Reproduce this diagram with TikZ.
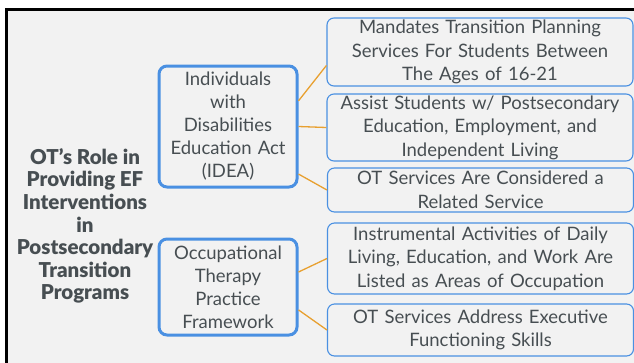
\documentclass[tikz,border=0pt]{standalone}
\usepackage{fontspec}
\setmainfont{Lato}
\newfontfamily\headfont{Lato Black}

\definecolor{panelgray}{HTML}{F2F2F2}
\definecolor{txtgray}{HTML}{474E52}
\definecolor{boxblue}{HTML}{4A90E2}
\definecolor{linkorange}{HTML}{E8A030}

\begin{document}
\begin{tikzpicture}[x=1pt,y=-1pt,semithick,
    act/.style={draw=boxblue,line width=3pt,rounded corners=8pt,fill=panelgray,
        text=txtgray,align=center,inner sep=0pt,minimum width=138pt,
        text width=134pt,font=\fontsize{18.5}{23}\selectfont},
    item/.style={draw=boxblue,line width=1.1pt,rounded corners=7pt,fill=panelgray,
        text=txtgray,align=center,inner sep=0pt,minimum width=306pt,
        text width=300pt,font=\fontsize{18.5}{23.5}\selectfont},
    link/.style={draw=linkorange,line width=1.3pt}]

\useasboundingbox (0,0) rectangle (634,362);
\path [fill=panelgray,draw=black,line width=3pt] (6.5,9.5) rectangle (645,375);

\node (title) at (85,226) [align=center,text=txtgray,
    font=\fontsize{20.5}{22.6}\selectfont\headfont]
    {OT’s Role in\\Providing EF\\Interventions\\in\\Postsecondary\\Transition\\Programs};

\node (idea) at (228,126.5) [act,minimum height=121pt]
    {Individuals\\with\\Disabilities\\Education Act\\(IDEA)};
\node (otpf) at (228,287) [act,minimum height=96pt]
    {Occupational\\Therapy\\Practice\\Framework};

\node (m1) at (480,52) [item,minimum height=68pt]
    {Mandates Transition Planning\\Services For Students Between\\The Ages of 16-21};
\node (m2) at (480,127.5) [item,minimum height=67pt]
    {Assist Students w/ Postsecondary\\Education, Employment, and\\Independent Living};
\node (m3) at (480.5,190) [item,minimum height=44pt]
    {OT Services Are Considered a\\Related Service};
\node (m4) at (480.5,258.5) [item,minimum height=71pt]
    {Instrumental Activities of Daily\\Living, Education, and Work Are\\Listed as Areas of Occupation};
\node (m5) at (480.5,330) [item,minimum height=52pt]
    {OT Services Address Executive\\Functioning Skills};

\path [link]
    (idea.20) -- (m1.185)
    (idea.east) -- (m2.west)
    (idea.-34) -- (m3.west)
    (otpf.12) -- (m4.west)
    (otpf.-18) -- (m5.west)
;

\end{tikzpicture}
\end{document}
